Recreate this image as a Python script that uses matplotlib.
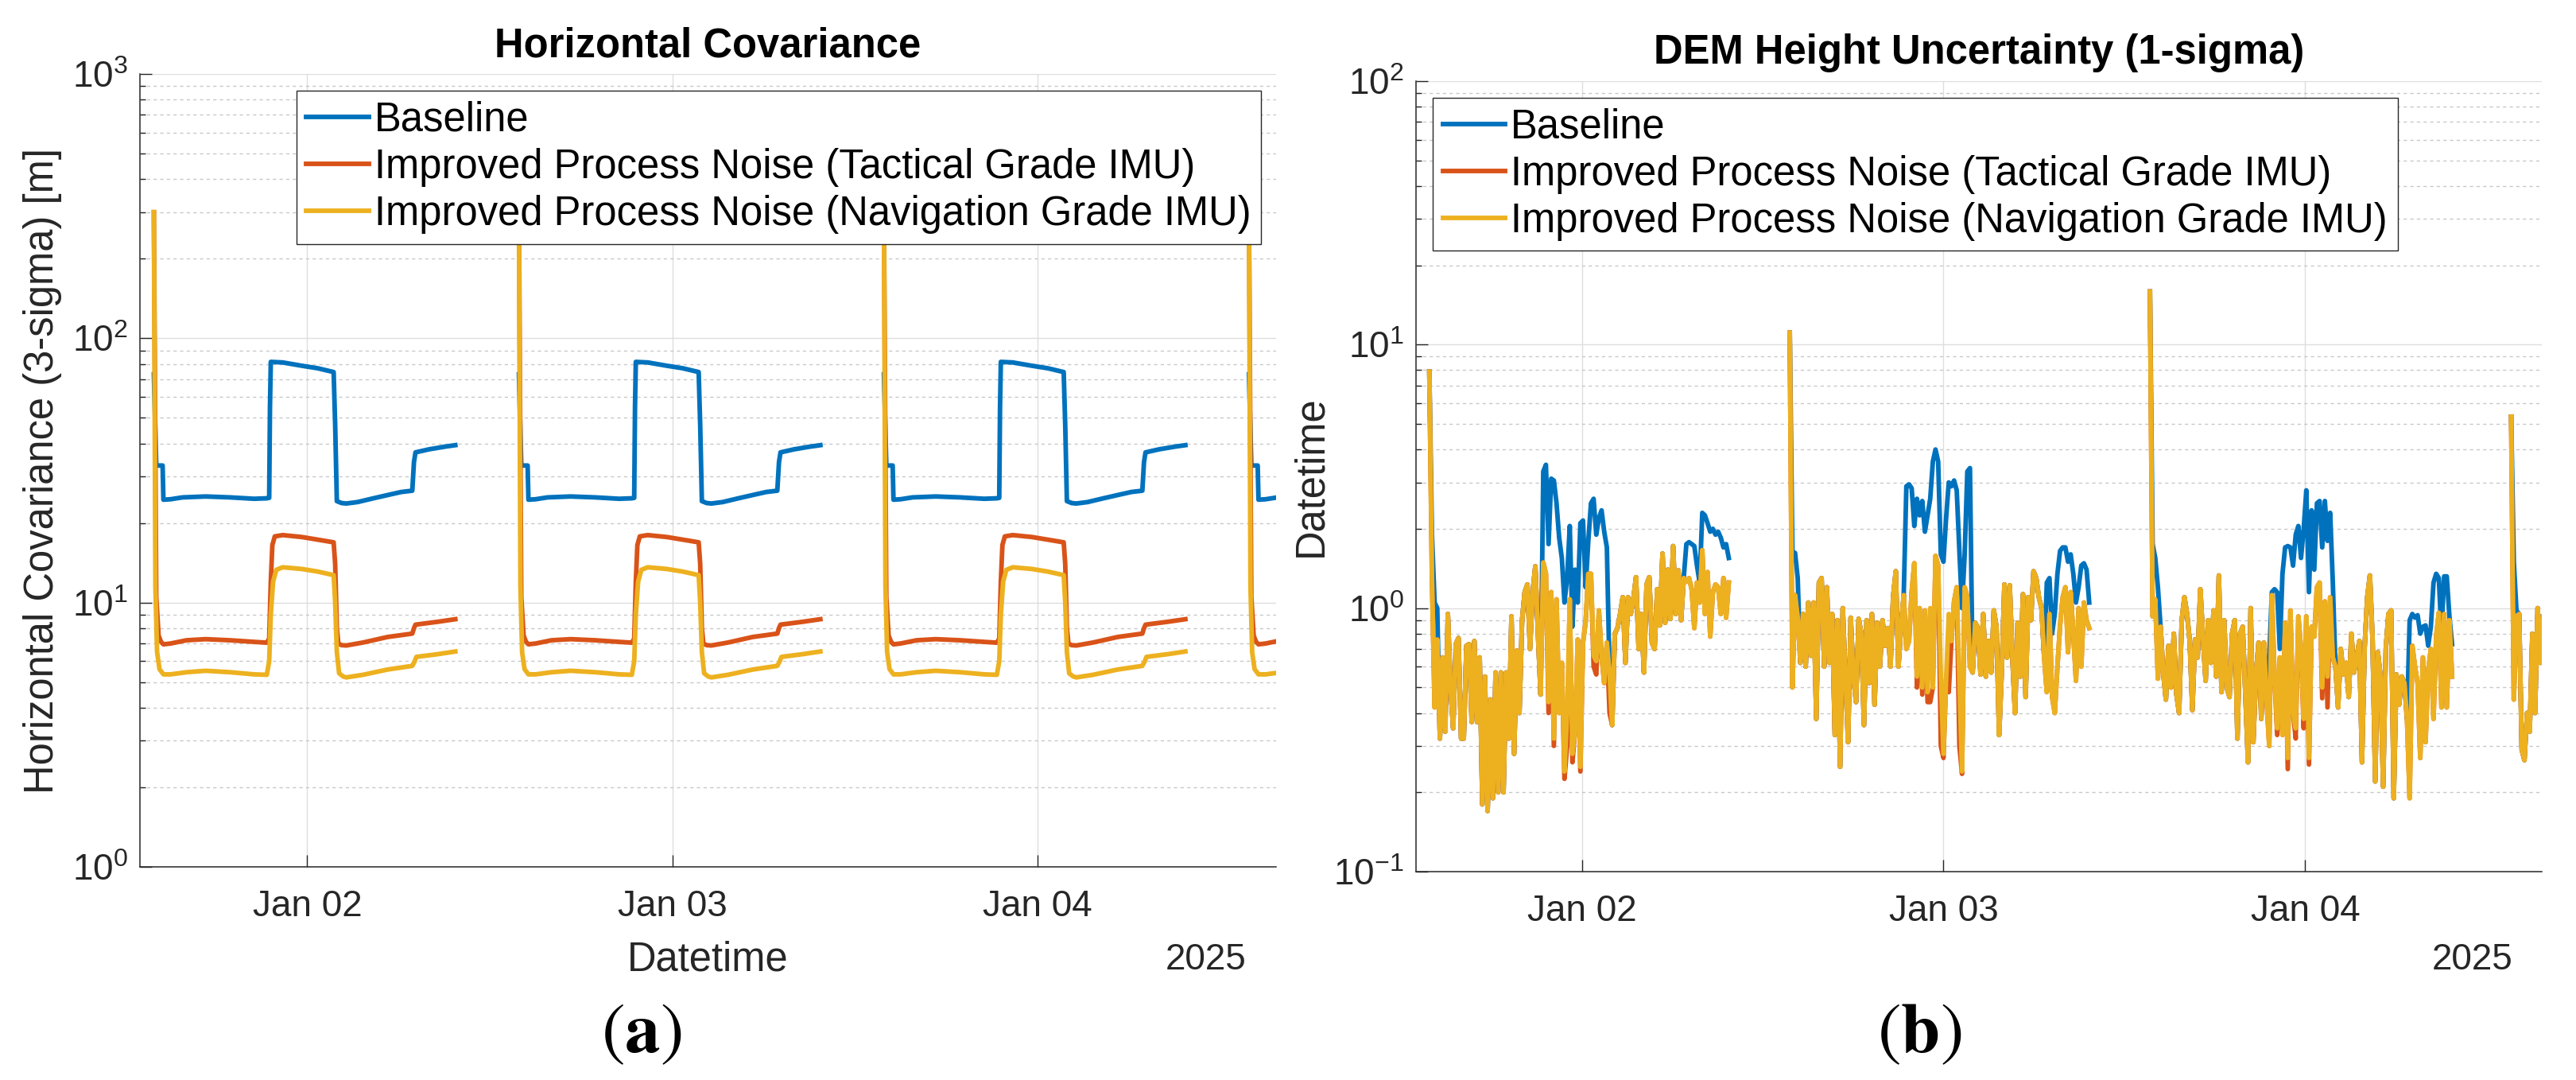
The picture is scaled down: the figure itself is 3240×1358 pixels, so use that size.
import numpy as np
import pandas as pd
import matplotlib
matplotlib.use('Agg')
import matplotlib.pyplot as plt
import matplotlib.dates as mdates
from matplotlib.ticker import LogLocator, NullFormatter
from matplotlib.lines import Line2D

# ---------------- data ----------------
labels = ['Baseline',
          'Improved Process Noise (Tactical Grade IMU)',
          'Improved Process Noise (Navigation Grade IMU)']
colors = ['#0072BD', '#D95319', '#EDB120']

# horizontal covariance: one daily pass, hours after pass start / value [m]
cov_starts = ['2025-01-01 13:55', '2025-01-02 13:55', '2025-01-03 13:55', '2025-01-04 13:55']

base_h = [0, 0.157, 0.575, 0.627, 1.098, 1.882, 3.399, 5.02, 6.589, 7.425, 7.582, 7.634, 7.687,
          8.471, 9.726, 10.77, 11.82, 11.92, 12.03, 12.34, 12.65, 13.39, 14.43, 15.48, 16.26,
          16.99, 17.10, 17.20, 18.09, 19.14, 19.82]
base_cov = [73, 33, 33, 24.5, 24.6, 25.0, 25.2, 25.0, 24.7, 24.8, 24.9, 55, 81.4,
            81, 78.7, 77, 74.5, 47, 24.2, 23.8, 23.7, 24.0, 24.8, 25.6, 26.2,
            26.5, 34, 37, 38.0, 38.9, 39.4]

tac_h = [0, 0.157, 0.31, 0.47, 0.627, 1.098, 2.14, 3.399, 5.02, 6.589, 7.425, 7.582, 7.687, 7.79,
         7.95, 8.471, 9.726, 10.77, 11.82, 11.92, 12.03, 12.13, 12.34, 12.65, 13.75, 15.37,
         16.99, 17.10, 17.20, 18.67, 19.82]
tac_cov = [300, 10.5, 7.5, 7.1, 6.95, 7.0, 7.2, 7.27, 7.2, 7.1, 7.05, 7.3, 12, 16.5,
           17.8, 18.0, 17.7, 17.3, 16.9, 14, 8, 7.0, 6.9, 6.88, 7.06, 7.41,
           7.63, 8.0, 8.25, 8.46, 8.65]

nav_h = [0, 0.10, 0.21, 0.37, 0.627, 1.098, 2.14, 3.399, 5.02, 6.589, 7.425, 7.582, 7.687, 7.84,
         8.05, 8.471, 9.726, 10.77, 11.82, 11.92, 12.03, 12.18, 12.45, 12.65, 13.75, 15.37,
         16.99, 17.15, 17.26, 18.67, 19.82]
nav_cov = [300, 11.5, 6.5, 5.6, 5.35, 5.35, 5.45, 5.52, 5.45, 5.35, 5.33, 6.0, 9.0, 12.0,
           13.3, 13.6, 13.4, 13.1, 12.7, 10, 6.5, 5.4, 5.25, 5.21, 5.33, 5.58,
           5.76, 6.0, 6.23, 6.38, 6.53]

# DEM height uncertainty (1-sigma), sampled every 633 s during each pass
dem_starts = ['2025-01-01 13:53', '2025-01-02 13:48', '2025-01-03 13:42', '2025-01-04 13:40']
dem_step_s = 633

dem1_nav = [7.9, 1.3, 0.42, 0.76, 0.32, 0.65, 0.34, 0.95, 0.50, 0.35,
            0.73, 0.77, 0.32, 0.32, 0.72, 0.73, 0.37, 0.75, 0.37, 0.65,
            0.18, 0.55, 0.17, 0.45, 0.19, 0.57, 0.20, 0.57, 0.20, 0.57,
            0.32, 0.93, 0.28, 0.69, 0.40, 0.90, 1.15, 1.23, 0.70, 1.15,
            1.44, 0.80, 0.47, 1.49, 1.35, 0.44, 1.15, 0.32, 1.08, 0.40,
            0.62, 0.24, 0.40, 1.08, 0.28, 0.34, 0.76, 0.25, 0.74, 0.89,
            1.35, 1.35, 0.66, 0.63, 0.98, 0.66, 0.52, 0.74, 0.57, 0.36,
            0.80, 0.84, 0.95, 1.10, 0.62, 1.10, 0.95, 1.08, 1.31, 0.70,
            0.95, 0.57, 1.23, 1.31, 0.74, 0.70, 1.18, 0.86, 1.61, 0.88,
            1.40, 0.91, 1.72, 0.95, 1.39, 0.90, 1.30, 1.26, 1.30, 1.18,
            0.84, 1.25, 1.05, 1.66, 0.95, 1.37, 0.78, 1.15, 1.23, 1.20,
            0.95, 1.30, 0.92, 1.25]
dem1_tac = [7.9, 1.3, 0.42, 0.76, 0.32, 0.65, 0.34, 0.95, 0.50, 0.35,
            0.73, 0.77, 0.32, 0.32, 0.72, 0.73, 0.37, 0.75, 0.37, 0.65,
            0.18, 0.55, 0.17, 0.45, 0.19, 0.57, 0.20, 0.57, 0.20, 0.57,
            0.32, 0.93, 0.28, 0.69, 0.40, 0.90, 1.15, 1.23, 0.70, 1.15,
            1.44, 0.80, 0.47, 1.49, 1.35, 0.40, 1.15, 0.30, 1.08, 0.40,
            0.62, 0.225, 0.30, 1.08, 0.26, 0.34, 0.76, 0.24, 0.74, 0.89,
            1.35, 1.35, 0.60, 0.56, 0.98, 0.66, 0.52, 0.74, 0.40, 0.36,
            0.80, 0.84, 0.95, 1.10, 0.62, 1.10, 0.95, 1.08, 1.31, 0.70,
            0.95, 0.57, 1.23, 1.31, 0.74, 0.70, 1.18, 0.86, 1.61, 0.88,
            1.40, 0.91, 1.72, 0.95, 1.39, 0.90, 1.30, 1.26, 1.30, 1.18,
            0.84, 1.25, 1.05, 1.66, 0.95, 1.37, 0.78, 1.15, 1.23, 1.20,
            0.95, 1.30, 0.92, 1.25]
dem1_base = [7.9, 1.9, 1.05, 1.0, 0.32, 0.65, 0.34, 0.95, 0.50, 0.35,
             0.73, 0.77, 0.32, 0.32, 0.72, 0.73, 0.37, 0.75, 0.37, 0.65,
             0.18, 0.55, 0.17, 0.45, 0.19, 0.57, 0.20, 0.57, 0.20, 0.57,
             0.32, 0.93, 0.28, 0.69, 0.40, 0.90, 1.15, 1.23, 0.70, 1.15,
             1.44, 0.80, 0.47, 3.3, 3.5, 1.75, 3.1, 3.05, 2.5, 1.85,
             1.55, 1.05, 1.3, 2.05, 0.85, 1.4, 1.05, 2.1, 2.15, 1.2,
             1.8, 2.5, 2.6, 1.9, 2.2, 2.35, 1.95, 1.7, 0.57, 0.36,
             0.80, 0.84, 0.95, 1.10, 0.62, 1.10, 0.95, 1.08, 1.31, 0.70,
             0.95, 0.57, 1.23, 1.31, 0.74, 0.70, 1.18, 0.86, 1.61, 0.88,
             1.40, 0.91, 1.72, 0.95, 1.39, 0.90, 1.30, 1.75, 1.78, 1.75,
             1.72, 1.45, 1.25, 2.3, 2.25, 2.1, 1.95, 2.0, 1.9, 1.95,
             1.85, 1.7, 1.75, 1.55]

dem2_nav = [11.1, 0.50, 1.12, 0.92, 0.62, 0.95, 0.60, 1.05, 0.66, 1.05,
            0.38, 1.25, 1.30, 0.60, 1.20, 0.62, 0.95, 0.33, 0.90, 0.25,
            1.0, 0.55, 0.31, 0.92, 0.55, 0.44, 0.91, 0.80, 0.36, 0.90,
            0.52, 0.95, 0.43, 0.88, 0.60, 0.90, 0.72, 0.84, 0.60, 1.10,
            1.38, 0.60, 0.85, 1.12, 0.70, 0.75, 1.15, 1.48, 0.55, 1.00,
            0.50, 0.98, 0.48, 1.00, 0.50, 1.58, 1.45, 0.55, 0.28, 0.54,
            0.95, 0.75, 1.06, 1.20, 0.54, 0.24, 1.20, 1.10, 0.60, 0.57,
            0.88, 0.84, 0.56, 0.95, 0.55, 0.75, 0.57, 0.98, 0.85, 0.33,
            0.58, 1.23, 0.65, 1.22, 0.65, 0.40, 0.88, 0.55, 1.13, 0.46,
            1.10, 0.90, 1.38, 1.30, 1.10, 1.00, 0.65, 0.48, 0.95, 0.46,
            0.40, 0.60, 0.86, 1.10, 1.20, 0.68, 1.15, 0.80, 0.53, 1.00,
            0.60, 1.05, 0.90, 0.84]
dem2_tac = [11.1, 0.50, 1.12, 0.92, 0.62, 0.95, 0.60, 1.05, 0.66, 1.05,
            0.38, 1.25, 1.30, 0.60, 1.20, 0.62, 0.95, 0.33, 0.90, 0.25,
            1.0, 0.55, 0.31, 0.92, 0.55, 0.44, 0.91, 0.80, 0.36, 0.90,
            0.52, 0.95, 0.43, 0.88, 0.60, 0.90, 0.72, 0.84, 0.60, 1.10,
            1.38, 0.60, 0.85, 1.12, 0.70, 0.75, 1.15, 1.48, 0.50, 1.00,
            0.47, 0.98, 0.44, 0.44, 0.50, 1.58, 1.45, 0.30, 0.27, 0.54,
            0.48, 0.75, 1.06, 1.20, 0.30, 0.235, 1.20, 1.10, 0.60, 0.57,
            0.88, 0.84, 0.56, 0.95, 0.55, 0.75, 0.57, 0.98, 0.85, 0.33,
            0.58, 1.23, 0.65, 1.22, 0.65, 0.40, 0.88, 0.55, 1.13, 0.46,
            1.10, 0.90, 1.38, 1.30, 1.10, 1.00, 0.65, 0.48, 0.95, 0.46,
            0.40, 0.60, 0.86, 1.10, 1.20, 0.68, 1.15, 0.80, 0.53, 1.00,
            0.60, 1.05, 0.90, 0.84]
dem2_base = [11.1, 1.64, 1.62, 1.30, 0.62, 0.95, 0.60, 1.05, 0.66, 1.05,
             0.38, 1.25, 1.30, 0.60, 1.20, 0.62, 0.95, 0.33, 0.90, 0.25,
             1.0, 0.55, 0.31, 0.92, 0.55, 0.44, 0.91, 0.80, 0.36, 0.90,
             0.52, 0.95, 0.43, 0.88, 0.60, 0.90, 0.72, 0.84, 0.60, 1.10,
             1.38, 0.60, 0.85, 1.12, 2.9, 2.95, 2.85, 2.05, 2.6, 2.25,
             2.55, 1.95, 2.25, 2.6, 3.6, 4.0, 3.6, 1.6, 1.5, 2.2,
             3.0, 2.9, 3.05, 2.8, 1.65, 1.0, 1.6, 3.3, 3.4, 0.57,
             0.88, 0.84, 0.56, 0.95, 0.55, 0.75, 0.57, 0.98, 0.85, 0.33,
             0.58, 1.23, 0.65, 1.22, 0.65, 0.40, 0.88, 0.55, 1.13, 0.46,
             1.10, 0.90, 1.38, 1.30, 1.10, 1.00, 0.65, 1.25, 1.30, 0.80,
             0.95, 1.35, 1.65, 1.70, 1.70, 1.50, 1.60, 1.35, 1.05, 1.20,
             1.45, 1.48, 1.40, 1.05]

dem3_nav = [15.9, 0.93, 1.08, 0.54, 0.85, 0.57, 0.45, 0.72, 0.50, 0.80,
            0.47, 0.40, 0.90, 1.10, 0.95, 0.75, 0.41, 0.76, 0.65, 1.18,
            0.78, 0.53, 0.90, 0.62, 0.98, 0.55, 1.33, 0.48, 0.90, 0.50,
            0.46, 0.80, 0.90, 0.32, 0.80, 0.85, 0.47, 0.26, 1.0, 0.31,
            0.56, 0.74, 0.38, 0.74, 0.45, 0.30, 1.12, 0.55, 0.35, 0.65,
            0.33, 0.88, 0.27, 0.98, 0.40, 0.35, 0.93, 0.70, 0.38, 0.93,
            0.27, 0.85, 0.78, 1.20, 1.25, 0.50, 1.06, 0.55, 1.10, 0.65,
            0.60, 0.42, 0.70, 0.56, 0.62, 0.46, 0.80, 0.57, 0.65, 0.75,
            0.26, 0.71, 1.1, 1.33, 0.76, 0.22, 0.68, 0.55, 0.21, 0.70,
            0.95, 0.98, 0.19, 0.56, 0.43, 0.55, 0.52, 0.38, 0.19, 0.72,
            0.60, 0.52, 0.27, 0.65, 0.31, 0.58, 0.70, 0.38, 0.78, 0.96,
            0.42, 0.95, 0.42, 0.90, 0.55]
dem3_tac = [15.9, 0.93, 1.08, 0.54, 0.85, 0.57, 0.45, 0.72, 0.50, 0.80,
            0.47, 0.40, 0.90, 1.10, 0.95, 0.75, 0.41, 0.76, 0.65, 1.18,
            0.78, 0.53, 0.90, 0.62, 0.98, 0.55, 1.33, 0.48, 0.90, 0.50,
            0.46, 0.80, 0.90, 0.32, 0.80, 0.85, 0.47, 0.26, 1.0, 0.31,
            0.56, 0.74, 0.38, 0.74, 0.45, 0.30, 1.12, 0.55, 0.33, 0.65,
            0.33, 0.88, 0.245, 0.98, 0.40, 0.32, 0.93, 0.70, 0.35, 0.93,
            0.255, 0.85, 0.78, 1.20, 1.25, 0.455, 1.06, 0.42, 1.10, 0.65,
            0.60, 0.42, 0.70, 0.56, 0.62, 0.46, 0.80, 0.57, 0.65, 0.75,
            0.26, 0.71, 1.1, 1.33, 0.76, 0.22, 0.68, 0.55, 0.21, 0.70,
            0.95, 0.98, 0.19, 0.56, 0.43, 0.55, 0.52, 0.38, 0.19, 0.72,
            0.60, 0.52, 0.27, 0.65, 0.31, 0.58, 0.70, 0.38, 0.78, 0.96,
            0.42, 0.95, 0.42, 0.90, 0.55]
dem3_base = [15.9, 1.75, 1.55, 1.2, 0.85, 0.57, 0.45, 0.72, 0.50, 0.80,
             0.47, 0.40, 0.90, 1.10, 0.95, 0.75, 0.41, 0.76, 0.65, 1.18,
             0.78, 0.53, 0.90, 0.62, 0.98, 0.55, 1.33, 0.48, 0.90, 0.50,
             0.46, 0.80, 0.90, 0.32, 0.80, 0.85, 0.47, 0.26, 1.0, 0.31,
             0.56, 0.74, 0.38, 0.74, 0.45, 0.65, 1.15, 1.18, 1.15, 0.70,
             1.35, 1.70, 1.72, 1.70, 1.45, 1.9, 2.05, 1.55, 2.0, 2.8,
             1.15, 2.35, 1.4, 2.5, 2.55, 1.7, 2.55, 1.8, 2.3, 1.25,
             0.60, 0.42, 0.70, 0.56, 0.62, 0.46, 0.80, 0.57, 0.65, 0.75,
             0.26, 0.71, 1.1, 1.33, 0.76, 0.22, 0.68, 0.55, 0.21, 0.70,
             0.95, 0.98, 0.19, 0.56, 0.43, 0.55, 0.52, 0.38, 0.90, 0.95,
             0.92, 0.94, 0.80, 0.85, 0.86, 0.72, 0.85, 1.25, 1.35, 1.30,
             0.80, 1.32, 1.32, 0.93, 0.73]

dem4_nav = [5.33, 0.45, 0.92, 0.95, 0.29, 0.265, 0.40, 0.34, 0.80, 0.40, 1.0, 0.62, 0.93]
dem4_tac = [5.33, 0.45, 0.92, 0.95, 0.29, 0.265, 0.40, 0.34, 0.80, 0.40, 1.0, 0.62, 0.93]
dem4_base = [5.33, 1.5, 0.98, 0.95, 0.29, 0.265, 0.40, 0.34, 0.80, 0.40, 1.0, 0.62, 0.93]

dem_base = [dem1_base, dem2_base, dem3_base, dem4_base]
dem_tac = [dem1_tac, dem2_tac, dem3_tac, dem4_tac]
dem_nav = [dem1_nav, dem2_nav, dem3_nav, dem4_nav]

x_start = pd.Timestamp('2025-01-01 13:00')
x_end = pd.Timestamp('2025-01-04 15:42')

# ---------------- style ----------------
plt.rcParams['font.family'] = ['Liberation Sans', 'DejaVu Sans']
plt.rcParams['mathtext.fontset'] = 'custom'
plt.rcParams['mathtext.rm'] = 'Liberation Sans'
plt.rcParams['mathtext.it'] = 'Liberation Sans:italic'
plt.rcParams['mathtext.bf'] = 'Liberation Sans:bold'

W, H = 3241, 1358
LW = 4.2
dark = '#262626'

fig = plt.figure(figsize=(W / 100, H / 100), dpi=100)
ax1 = fig.add_axes([176 / W, 1 - 1090 / H, 1429 / W, 997 / H])
ax2 = fig.add_axes([1781 / W, 1 - 1096 / H, 1416 / W, 994 / H])


def style_axes(ax, ylim):
    ax.set_yscale('log')
    ax.set_ylim(*ylim)
    ax.set_xlim(x_start, x_end)
    ax.set_axisbelow(True)
    ax.xaxis.set_major_locator(mdates.DayLocator())
    ax.xaxis.set_major_formatter(mdates.DateFormatter('%b %d'))
    ax.yaxis.set_major_locator(LogLocator(base=10, numticks=10))
    ax.yaxis.set_minor_locator(LogLocator(base=10, subs=np.arange(2, 10), numticks=20))
    ax.yaxis.set_minor_formatter(NullFormatter())
    ax.grid(True, which='major', color='#dedede', lw=1.0, ls='-')
    ax.grid(True, which='minor', axis='y', color='#c8c8c8', lw=1.0, ls=(0, (3, 3)))
    ax.tick_params(which='major', direction='in', length=10.8, width=1.0, color=dark,
                   labelsize=33, labelcolor=dark)
    ax.tick_params(axis='x', which='major', pad=20)
    ax.tick_params(axis='y', which='major', pad=11)
    ax.tick_params(which='minor', direction='in', length=5, width=1.0, color=dark)
    for s in ['top', 'right']:
        ax.spines[s].set_visible(False)
    for s in ['left', 'bottom']:
        ax.spines[s].set_color(dark)
        ax.spines[s].set_linewidth(1.1)


# ---------------- (a) horizontal covariance ----------------
for start in cov_starts:
    t0 = pd.Timestamp(start)
    for hrs, vals, c in [(base_h, base_cov, colors[0]), (tac_h, tac_cov, colors[1]),
                         (nav_h, nav_cov, colors[2])]:
        t = t0 + pd.to_timedelta(hrs, unit='h')
        ax1.plot(t, vals, color=c, lw=LW)

style_axes(ax1, (1, 1000))
ax1.set_title('Horizontal Covariance', fontsize=36.5, fontweight='bold', pad=15.5)
ax1.set_ylabel('Horizontal Covariance (3-sigma) [m]', fontsize=36.5, color=dark)
ax1.yaxis.set_label_coords(-0.0686, 0.5)
ax1.set_xlabel('Datetime', fontsize=36.5, color=dark)
ax1.xaxis.set_label_coords(0.5, -0.0923)
ax1.text(0.974, -0.1294, '2025', transform=ax1.transAxes, ha='right', va='baseline',
         fontsize=33, color=dark)

# ---------------- (b) DEM height uncertainty ----------------
for k, start in enumerate(dem_starts):
    t0 = pd.Timestamp(start)
    for vals, c in [(dem_base[k], colors[0]), (dem_tac[k], colors[1]), (dem_nav[k], colors[2])]:
        t = t0 + pd.to_timedelta(np.arange(len(vals)) * dem_step_s, unit='s')
        ax2.plot(t, vals, color=c, lw=LW)

style_axes(ax2, (0.1, 100))
ax2.set_title('DEM Height Uncertainty (1-sigma)', fontsize=36.5, fontweight='bold', pad=15.5)
ax2.set_ylabel('Datetime', fontsize=36.5, color=dark)
ax2.yaxis.set_label_coords(-0.0763, 0.5)
ax2.text(0.974, -0.1237, '2025', transform=ax2.transAxes, ha='right', va='baseline',
         fontsize=33, color=dark)

# legends
handles = [Line2D([], [], color=c, lw=LW) for c in colors]
for ax, loc, anchor in [(ax1, 'upper right', (0.987, 0.979)), (ax2, 'upper left', (0.0148, 0.979))]:
    leg = ax.legend(handles, labels, loc=loc, bbox_to_anchor=anchor, fontsize=36.5,
                    handlelength=1.55, handletextpad=0.14, labelspacing=0.2,
                    borderpad=0.25, borderaxespad=0, fancybox=False, framealpha=1,
                    edgecolor=dark)
    leg.get_frame().set_linewidth(1.0)

# panel labels
fig.text(807 / W, 1 - 1300 / H, r'$(\mathbf{a})$', fontsize=64, math_fontfamily='stix',
         ha='center', va='center')
fig.text(2414 / W, 1 - 1300 / H, r'$(\mathbf{b})$', fontsize=64, math_fontfamily='stix',
         ha='center', va='center')

fig.savefig('out.png', dpi=100)
